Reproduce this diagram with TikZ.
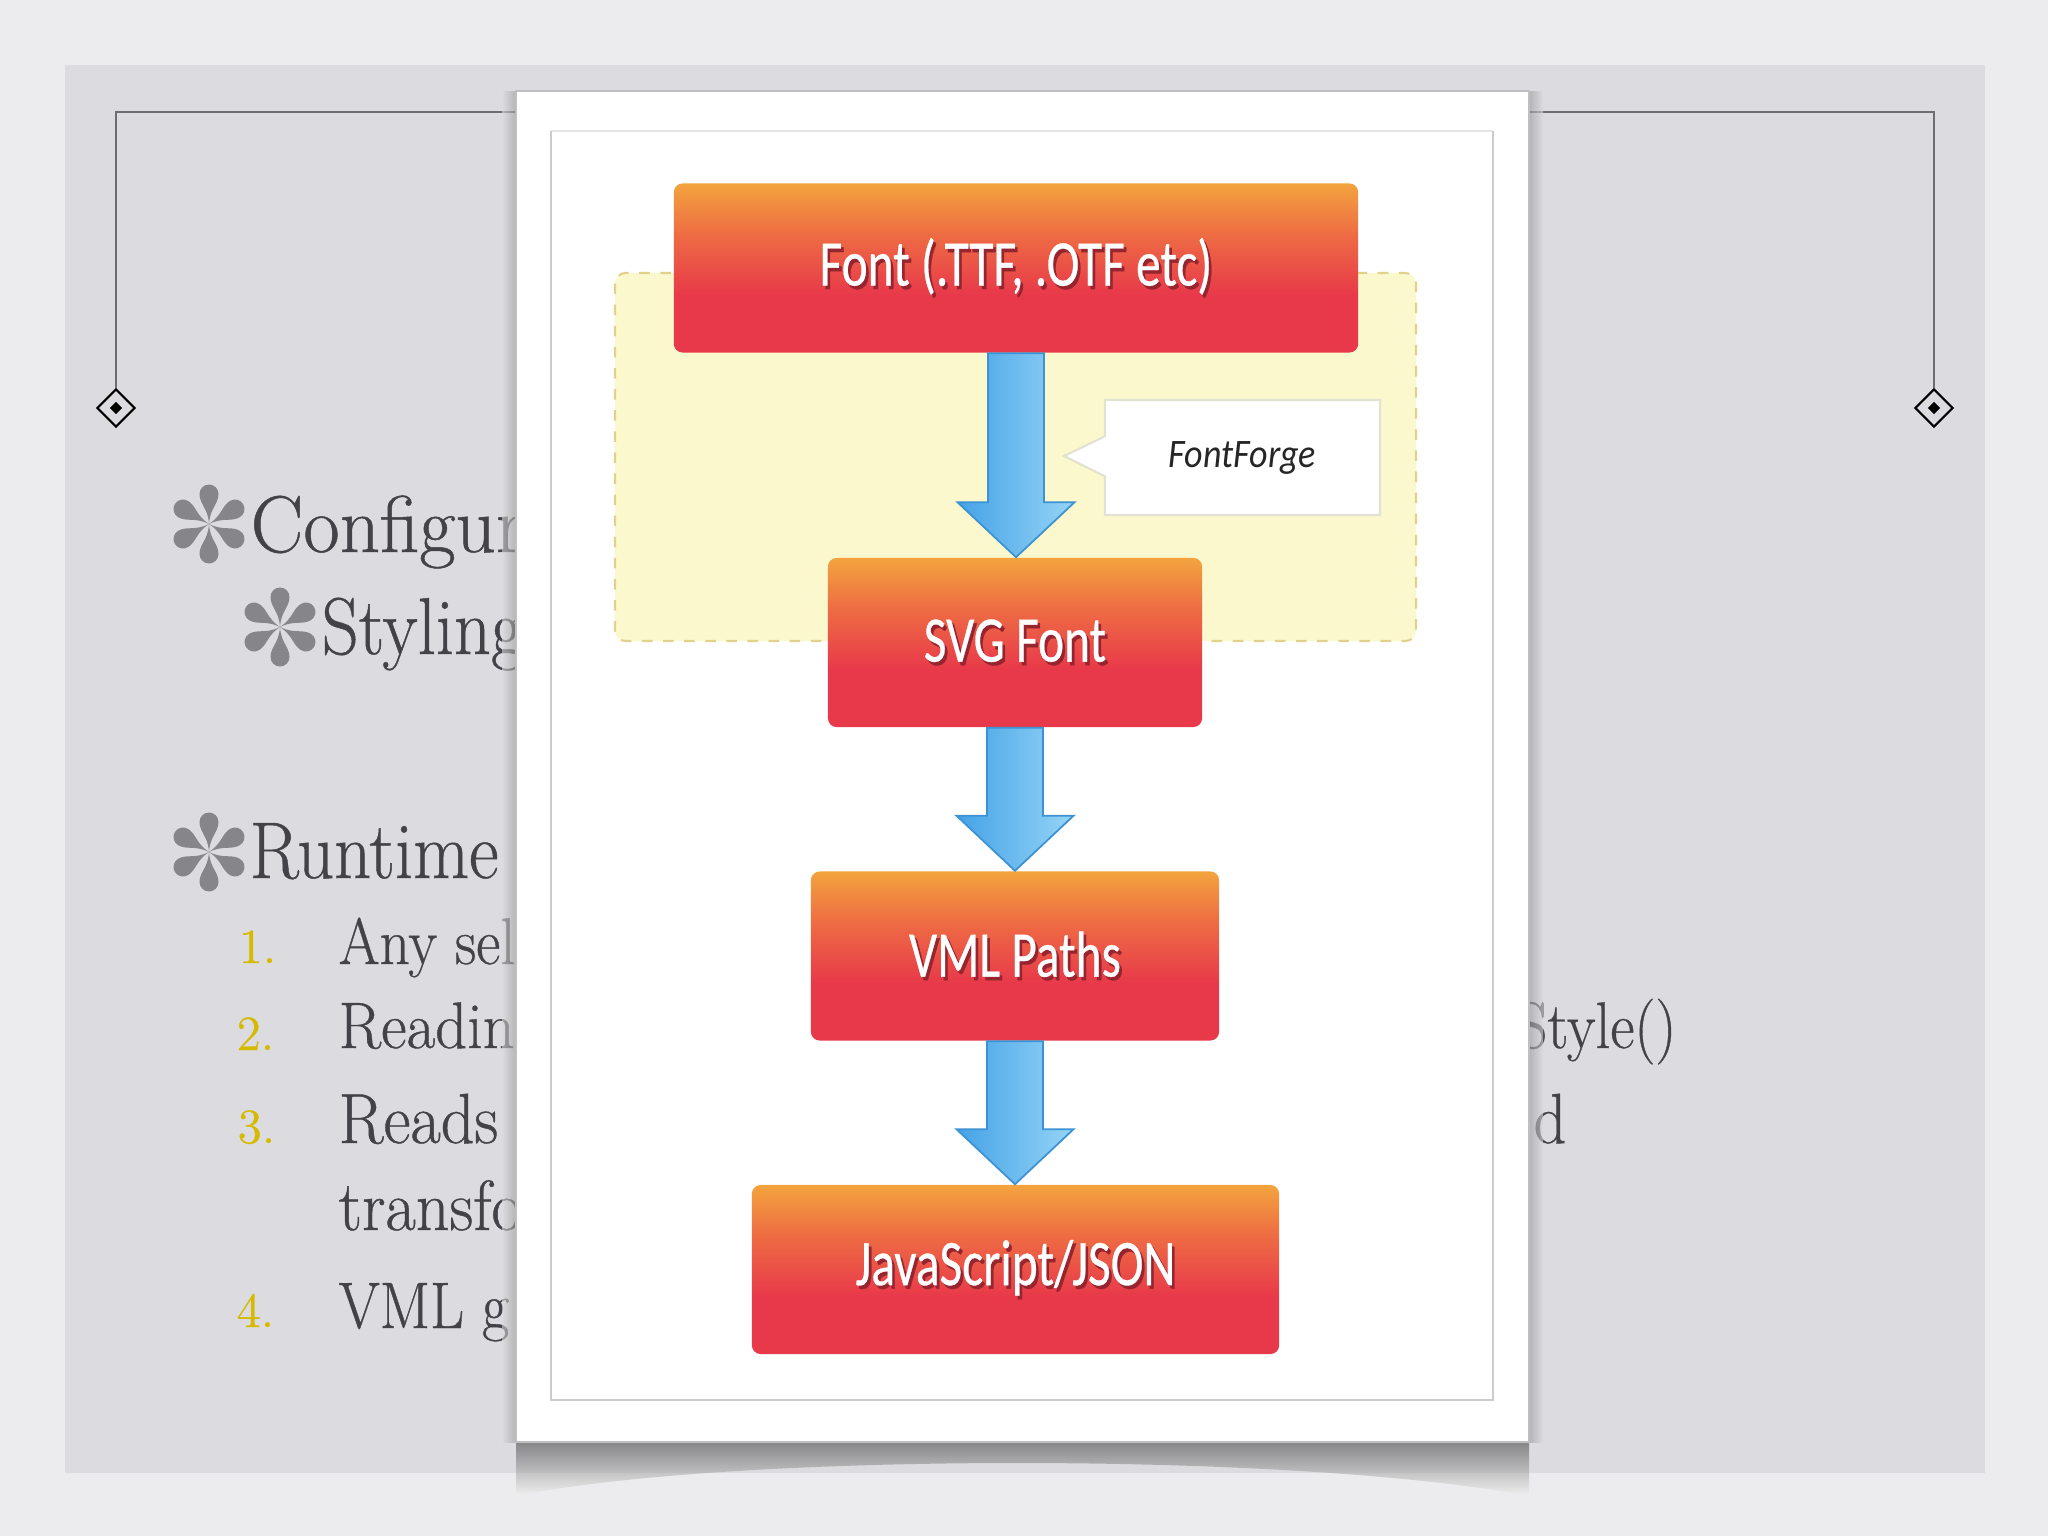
\documentclass[tikz,border=0pt]{standalone}
\usepackage{fontspec}
\usetikzlibrary{calc,shapes.callouts,shapes.geometric}
\newfontfamily\boxfont{Carlito}[FakeBold=0.5]
\newfontfamily\calloutfont{Carlito}
\newfontfamily\slidefont{Latin Modern Roman}[FakeBold=0.6]
\definecolor{outerbg}{HTML}{ECECEE}
\definecolor{panel}{HTML}{DCDCE0}
\definecolor{frameline}{HTML}{6E6E72}
\definecolor{txtgray}{HTML}{424248}
\definecolor{numgold}{HTML}{D6BA00}
\definecolor{astgray}{HTML}{86868A}
\definecolor{yfill}{HTML}{FCF8CE}
\definecolor{yedge}{HTML}{E0D28A}
\definecolor{arrl}{HTML}{45A2E6}
\definecolor{arrr}{HTML}{95D4F7}
\definecolor{arre}{HTML}{3C92D2}
\definecolor{boxtop}{HTML}{F3A43E}
\definecolor{boxmid}{HTML}{EE6C43}
\definecolor{boxred}{HTML}{E8394A}
\definecolor{cedge}{HTML}{E2E2D2}
\pgfdeclareverticalshading{boxshade}{100bp}{color(0bp)=(boxred); color(25bp)=(boxred); color(42bp)=(boxred); color(60bp)=(boxmid); color(75bp)=(boxtop); color(100bp)=(boxtop)}
\newcommand{\blabel}[1]{\scalebox{0.76}[1]{\rlap{\raisebox{-1pt}{\hspace{1pt}\textcolor{black!35!boxred}{#1}}}#1}}
\newcommand{\stxt}[2][0.9]{\scalebox{#1}[1]{#2}}
\tikzset{
  flowbox/.style={rectangle, rounded corners=2.5pt, shading=boxshade, minimum height=1.69cm, inner sep=0pt,
    font=\boxfont\fontsize{18.5}{20}\selectfont, text=white},
  fatarrow/.style={draw=arre, line width=0.5pt, left color=arrl, right color=arrr,
    to path={let \p1=(\tikztostart), \p2=(\tikztotarget) in
      (\x1-0.28cm,\y1) -- (\x1-0.28cm,\y2+0.55cm) -- (\x1-0.585cm,\y2+0.55cm) -- (\x1,\y2)
      -- (\x1+0.585cm,\y2+0.55cm) -- (\x1+0.28cm,\y2+0.55cm) -- (\x1+0.28cm,\y1) -- cycle}},
  headtxt/.style={anchor=base west, inner sep=0pt, text=txtgray, font=\slidefont\fontsize{22.9}{26}\selectfont},
  listtxt/.style={anchor=base west, inner sep=0pt, text=txtgray, font=\slidefont\fontsize{18.7}{22}\selectfont},
  bigltxt/.style={listtxt, font=\slidefont\fontsize{20.2}{24}\selectfont},
  numtxt/.style={anchor=base west, inner sep=0pt, text=numgold, font=\slidefont\fontsize{14}{16}\selectfont},
  framediamond/.style={diamond, draw=black, line width=0.6pt, minimum size=0.38cm, inner sep=0pt},
  dotdiamond/.style={diamond, fill=black, minimum size=0.13cm, inner sep=0pt},
  astmark/.pic={
    \foreach \ang in {90,270,30,150,210,330}{
      \fill[astgray, rotate=\ang] (0,0) .. controls (16,1) and (20,9.5) .. (30,9.5)
        arc[start angle=90, end angle=-90, radius=9.5] .. controls (20,-9.5) and (16,-1) .. (0,0);
    }
  }
}
\begin{document}
\begin{tikzpicture}[x=0.01cm,y=-0.01cm]
\useasboundingbox (0,0) rectangle (2048,1536);
\fill[outerbg] (0,0) rectangle (2048,1536);
\fill[panel] (65,65) rectangle (1985,1473);
% frame with diamonds
\node[framediamond] (dl) at (116,408) {};
\node[dotdiamond] (dli) at (116,408) {};
\node[framediamond] (dr) at (1934,408) {};
\node[dotdiamond] (dri) at (1934,408) {};
\draw[frameline, line width=0.7pt] (dl.north) -- (116,112) -- (1934,112) -- (dr.north);
% slide text
\pic at (209,524) {astmark};
\node[headtxt] (t1) at (250,552) {\stxt[0.98]{Configur}};
\pic at (280,627) {astmark};
\node[headtxt] (t2) at (321,654) {\stxt{Styling}};
\pic at (209,852) {astmark};
\node[headtxt] (t3) at (249,878) {\stxt{Runtime}};
\node[numtxt] (n1) at (238,963) {1.};
\node[listtxt] (l1) at (338,964) {\stxt{Any sel}};
\node[numtxt] (n2) at (236,1050) {2.};
\node[listtxt] (l2) at (338,1048) {\stxt[0.95]{Readin}};
\node[numtxt] (n3) at (237,1143) {3.};
\node[bigltxt] (l3) at (338,1143) {\stxt[0.93]{Reads}};
\node[bigltxt] (l3b) at (338,1230) {\stxt[0.93]{transfo}};
\node[numtxt] (n4) at (236,1327) {4.};
\node[listtxt] (l4) at (338,1328) {\stxt{VML g}};
\node[listtxt, anchor=base east] (r2) at (1677,1048) {\stxt{Style()}};
\node[bigltxt, anchor=base east] (r3) at (1567,1143) {\stxt{d}};
% card shadows
\shade[top color=black!75, bottom color=black!5, opacity=0.55]
  (516,1442) -- (1529,1442) -- (1529,1496) .. controls (1300,1452) and (732,1452) .. (516,1496) -- cycle;
\shade[left color=panel, right color=black!40, opacity=0.6] (502,91) rectangle (516,1442);
\shade[left color=black!40, right color=panel, opacity=0.6] (1529,91) rectangle (1543,1442);
% card
\fill[white] (516,91) rectangle (1529,1442);
\draw[black!25, line width=0.3pt] (516,91) rectangle (1529,1442);
\draw[black!10, line width=0.5pt] (551,131) -- (1493,131);
\draw[black!20, line width=0.5pt] (551,131) -- (551,1400) -- (1493,1400) -- (1493,131);
% yellow region
\draw[yedge, fill=yfill, dashed, line width=0.6pt, rounded corners=3pt] (615,273) rectangle (1416,641);
% boxes
\node[flowbox, minimum width=6.84cm] (b1) at (1016,268) {\blabel{Font (.TTF, .OTF etc)}};
\node[flowbox, minimum width=3.74cm] (b2) at (1015,642.5) {\blabel{SVG Font}};
\node[flowbox, minimum width=4.08cm] (b3) at (1015,956) {\blabel{VML Paths}};
\node[flowbox, minimum width=5.27cm] (b4) at (1015.5,1269.5) {\blabel{JavaScript/JSON}};
% arrows
\path[fatarrow] (b1.south) to (b2.north);
\path[fatarrow] (b2.south) to (b3.north);
\path[fatarrow] (b3.south) to (b4.north);
% callout
\node[rectangle callout, draw=cedge, fill=white, line width=0.6pt, minimum width=2.75cm, minimum height=1.15cm,
  callout absolute pointer={(1064,456)}, callout pointer width=0.4cm,
  font=\calloutfont\itshape\fontsize{11.5}{13}\selectfont, text=black!85] (ff) at (1242.5,457.5) {\scalebox{0.89}[1]{FontForge}};
\end{tikzpicture}
\end{document}
